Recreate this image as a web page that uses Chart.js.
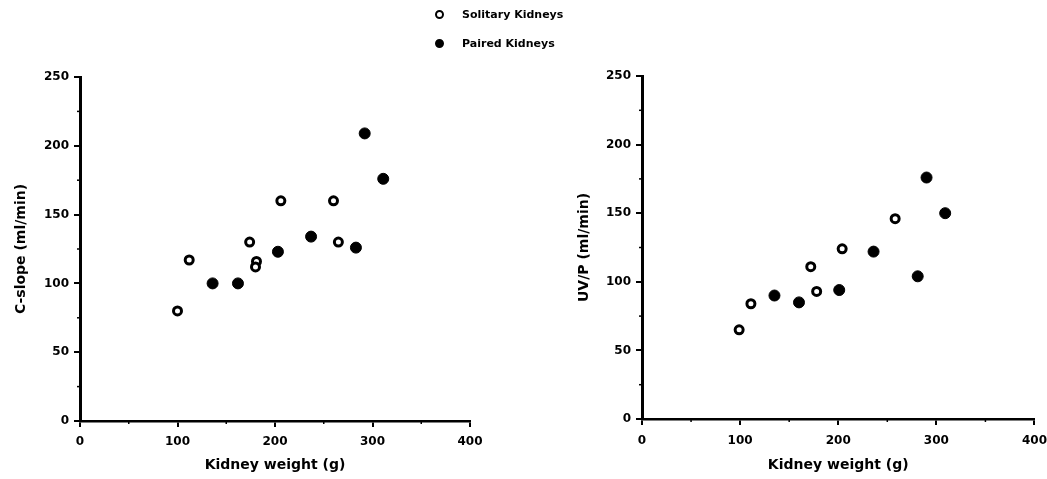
<!DOCTYPE html>
<html>
<head>
<meta charset="utf-8">
<script src="https://cdn.jsdelivr.net/npm/chart.js@4"></script>
<style>
  html, body { margin:0; padding:0; background:#fff; }
  body { width:1047px; height:479px; position:relative; overflow:hidden; font-family:'DejaVu Sans', sans-serif; }
  canvas { position:absolute; top:0; }
  #c1 { left:0; }
  #c2 { left:523px; }
  .lg { position:absolute; left:462px; font:bold 11px 'DejaVu Sans', sans-serif; color:#000; line-height:14px; white-space:nowrap; }
  .mk { position:absolute; box-sizing:border-box; width:9px; height:9px; border-radius:50%; border:2.5px solid #000; }
</style>
</head>
<body>
<canvas id="c1" width="523" height="479"></canvas>
<canvas id="c2" width="533" height="479"></canvas>
<div class="mk" style="left:435px;top:10px;background:#fff;"></div>
<div class="lg" style="top:8px;">Solitary Kidneys</div>
<div class="mk" style="left:435px;top:39px;background:#000;"></div>
<div class="lg" style="top:37px;">Paired Kidneys</div>
<script>
// ---- data ----
const seriesNames = ['Solitary Kidneys', 'Paired Kidneys'];

// Left panel: C-slope vs kidney weight
const solitaryWeightC = [100, 112, 174, 181, 180, 206, 260, 265];
const solitaryCslope  = [ 80, 117, 130, 116, 112, 160, 160, 130];
const pairedWeightC   = [136, 162, 203, 237, 283, 292, 311];
const pairedCslope    = [100, 100, 123, 134, 126, 209, 176];

// Right panel: UV/P vs kidney weight
const solitaryWeightU = [ 99, 111, 172, 178, 204, 258];
const solitaryUVP     = [ 65,  84, 111,  93, 124, 146];
const pairedWeightU   = [135, 160, 201, 236, 281, 290, 309];
const pairedUVP       = [ 90,  85,  94, 122, 104, 176, 150];

const xMajorTicks = [0, 100, 200, 300, 400];
const yMajorTicks = [0, 50, 100, 150, 200, 250];
const xMinorTicks = [50, 150, 250, 350];
const yMinorTicks = [25, 75, 125, 175, 225];

const xTitle = 'Kidney weight (g)';
const yTitleLeft = 'C-slope (ml/min)';
const yTitleRight = 'UV/P (ml/min)';

// ---- helpers ----
const pts = (xs, ys) => xs.map((v, i) => ({ x: v, y: ys[i] }));

Chart.defaults.font.family = "'DejaVu Sans', sans-serif";
Chart.defaults.color = '#000';

const minorTicksPlugin = {
  id: 'minorTicks',
  afterDraw(chart) {
    const { ctx, chartArea, scales: { x, y } } = chart;
    ctx.save();
    ctx.strokeStyle = '#000';
    ctx.lineWidth = 1.5;
    yMinorTicks.forEach(v => {
      const p = y.getPixelForValue(v);
      ctx.beginPath(); ctx.moveTo(chartArea.left - 3, p); ctx.lineTo(chartArea.left, p); ctx.stroke();
    });
    xMinorTicks.forEach(v => {
      const p = x.getPixelForValue(v);
      ctx.beginPath(); ctx.moveTo(p, chartArea.bottom); ctx.lineTo(p, chartArea.bottom + 3); ctx.stroke();
    });
    ctx.restore();
  }
};

function makeChart(id, sx, sy, px, py, yTitle, pad, yWidth, xHeight, xTickPad) {
  return new Chart(document.getElementById(id), {
    type: 'scatter',
    data: {
      datasets: [
        { label: seriesNames[0], data: pts(sx, sy), pointStyle: 'circle', pointRadius: 4, pointBorderWidth: 3,
          backgroundColor: '#fff', borderColor: '#000', pointHoverRadius: 4 },
        { label: seriesNames[1], data: pts(px, py), pointStyle: 'circle', pointRadius: 5.5, pointBorderWidth: 1,
          backgroundColor: '#000', borderColor: '#000', pointHoverRadius: 5.5 }
      ]
    },
    options: {
      responsive: false,
      animation: false,
      devicePixelRatio: 1,
      layout: { padding: pad },
      plugins: { legend: { display: false }, tooltip: { enabled: false } },
      scales: {
        x: {
          type: 'linear', min: 0, max: 400,
          afterBuildTicks: s => { s.ticks = xMajorTicks.map(v => ({ value: v })); },
          afterFit: s => { s.height = xHeight; },
          border: { display: true, color: '#000', width: 2.5 },
          grid: { drawOnChartArea: false, drawTicks: true, tickLength: 6, color: '#000', lineWidth: 2 },
          ticks: { padding: xTickPad, font: { size: 12, weight: 'bold' }, maxRotation: 0 },
          title: { display: true, text: xTitle, font: { size: 14, weight: 'bold' }, padding: { top: 0, bottom: 5 } }
        },
        y: {
          type: 'linear', min: 0, max: 250,
          afterBuildTicks: s => { s.ticks = yMajorTicks.map(v => ({ value: v })); },
          afterFit: s => { s.width = yWidth; },
          border: { display: true, color: '#000', width: 3 },
          grid: { drawOnChartArea: false, drawTicks: true, tickLength: 6, color: '#000', lineWidth: 2 },
          ticks: { padding: 5, font: { size: 12, weight: 'bold' } },
          title: { display: true, text: yTitle, font: { size: 14, weight: 'bold' }, padding: { top: 13, bottom: 0 } }
        }
      }
    },
    plugins: [minorTicksPlugin]
  });
}

makeChart('c1', solitaryWeightC, solitaryCslope, pairedWeightC, pairedCslope, yTitleLeft,
  { left: 0, right: 53, top: 77, bottom: 0 }, 80, 58, 8);
makeChart('c2', solitaryWeightU, solitaryUVP, pairedWeightU, pairedUVP, yTitleRight,
  { left: 40, right: 16, top: 76, bottom: 0 }, 79, 60, 9);
</script>
</body>
</html>
